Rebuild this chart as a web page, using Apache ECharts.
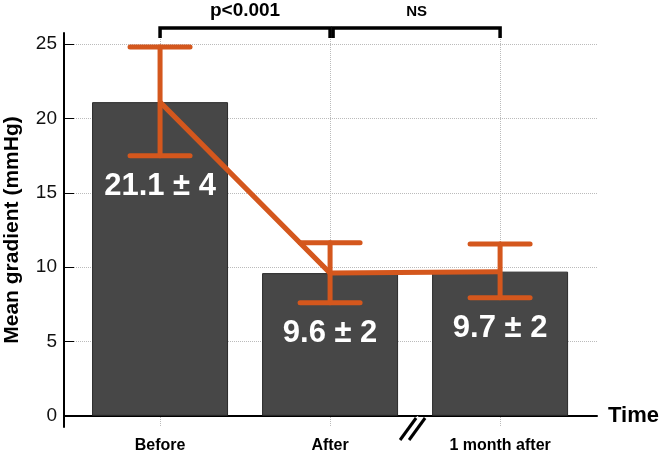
<!DOCTYPE html>
<html>
<head>
<meta charset="utf-8">
<title>Mean gradient</title>
<script src="https://cdn.jsdelivr.net/npm/echarts@6/dist/echarts.min.js"></script>
<style>
  html, body { margin: 0; padding: 0; background: #fff; }
  #main { width: 664px; height: 456px; }
</style>
</head>
<body>
<div id="main"></div>
<script>
// data
const categories = ["Before", "After", "1 month after"];
const xPositions = [1, 2, 3];
const meanValues = [21.1, 9.6, 9.7];
const sdLabels = [4, 2, 2];
const errLow = [17.5, 7.6, 7.95];
const errHigh = [24.8, 11.65, 11.55];
const yTicks = [0, 5, 10, 15, 20, 25];
const brackets = [
  { from: 1, to: 2, text: "p<0.001" },
  { from: 2, to: 3, text: "NS" },
];
const breakAt = 2.5;

const FONT = "'Liberation Sans', Arial, sans-serif";
const ORANGE = "#d4571d";
const Y_MIN = -0.75;

const chart = echarts.init(document.getElementById("main"));

const option = {
  animation: false,
  grid: { left: 64, right: 67, top: 33, bottom: 29, outerBoundsMode: "none", containLabel: false },
  xAxis: {
    type: "value",
    min: 0.435,
    max: 3.57,
    name: "Time",
    nameLocation: "end",
    nameGap: 11,
    nameMoveOverlap: false,
    nameTextStyle: { fontFamily: FONT, fontWeight: "bold", fontSize: 22, color: "#000" },
    axisLine: { lineStyle: { color: "#000", width: 2 } },
    axisTick: { inside: true, length: 10, customValues: xPositions, lineStyle: { color: "#000" } },
    axisLabel: {
      customValues: xPositions,
      formatter: (v) => categories[xPositions.indexOf(v)] || "",
      fontFamily: FONT,
      fontWeight: "bold",
      fontSize: 16,
      color: "#000",
      margin: 11,
    },
    splitLine: { show: true, lineStyle: { color: "#bbb", type: "dotted" } },
  },
  yAxis: {
    type: "value",
    min: Y_MIN,
    max: 25.75,
    name: "Mean gradient (mmHg)",
    nameLocation: "middle",
    nameGap: 41,
    nameMoveOverlap: false,
    nameTextStyle: { fontFamily: FONT, fontWeight: "bold", fontSize: 21, color: "#000" },
    axisLine: { show: true, lineStyle: { color: "#000", width: 2 } },
    axisTick: { show: true, inside: true, length: 10, customValues: yTicks, lineStyle: { color: "#000" } },
    axisLabel: {
      customValues: yTicks,
      fontFamily: FONT,
      fontSize: 19,
      color: "#111",
      margin: 7,
    },
    splitLine: { show: true, lineStyle: { color: "#bbb", type: "dotted" } },
  },
  series: [
    {
      type: "bar",
      barWidth: 136,
      data: meanValues.map((v, i) => [xPositions[i], v]),
      itemStyle: { color: "#474747", borderColor: "#2b2b2b", borderWidth: 1 },
      z: 2,
    },
    {
      type: "line",
      data: meanValues.map((v, i) => [xPositions[i], v]),
      symbol: "none",
      lineStyle: { color: ORANGE, width: 5 },
      z: 3,
    },
    {
      // error bars + value labels
      type: "custom",
      data: meanValues.map((v, i) => [xPositions[i], errLow[i], errHigh[i]]),
      z: 4,
      renderItem: (params, api) => {
        const i = params.dataIndex;
        const lo = api.coord([api.value(0), api.value(1)]);
        const hi = api.coord([api.value(0), api.value(2)]);
        const half = 30;
        const st = { stroke: ORANGE, lineWidth: 5, lineCap: "round" };
        return {
          type: "group",
          children: [
            { type: "line", shape: { x1: lo[0], y1: lo[1], x2: hi[0], y2: hi[1] }, style: st },
            { type: "line", shape: { x1: lo[0] - half, y1: lo[1], x2: lo[0] + half, y2: lo[1] }, style: st },
            { type: "line", shape: { x1: hi[0] - half, y1: hi[1], x2: hi[0] + half, y2: hi[1] }, style: st },
            {
              type: "text",
              x: lo[0],
              y: lo[1] + 31,
              style: {
                text: meanValues[i] + " ± " + sdLabels[i],
                fill: "#fff",
                font: "bold 31px " + FONT,
                align: "center",
                verticalAlign: "middle",
              },
            },
          ],
        };
      },
    },
    {
      // significance brackets on top
      type: "custom",
      data: brackets.map((b) => [b.from, b.to]),
      z: 5,
      renderItem: (params, api) => {
        const b = brackets[params.dataIndex];
        const x1 = api.coord([b.from, 0])[0] + (params.dataIndex > 0 ? 3 : 0);
        const x2 = api.coord([b.to, 0])[0];
        const yTop = 28;
        const yTip = 38;
        return {
          type: "group",
          children: [
            {
              type: "polyline",
              shape: { points: [[x1, yTip], [x1, yTop], [x2, yTop], [x2, yTip]] },
              style: { stroke: "#000", lineWidth: 3.5, fill: null },
            },
            {
              type: "text",
              x: (x1 + x2) / 2,
              y: params.dataIndex === 0 ? 11 : 12,
              style: {
                text: b.text,
                fill: "#000",
                font: "bold " + (params.dataIndex === 0 ? 19 : 15) + "px " + FONT,
                align: "center",
                verticalAlign: "middle",
              },
            },
          ],
        };
      },
    },
    {
      // axis break mark
      type: "custom",
      data: [[breakAt, Y_MIN]],
      z: 6,
      renderItem: (params, api) => {
        const p = api.coord([api.value(0), api.value(1)]);
        const x = p[0] - 1;
        const y = p[1];
        return {
          type: "group",
          children: [
            {
              type: "line",
              shape: { x1: x - 10, y1: y + 12, x2: x + 6, y2: y - 9 },
              style: { stroke: "#fff", lineWidth: 7 },
            },
            {
              type: "line",
              shape: { x1: x - 14, y1: y + 13, x2: x + 2, y2: y - 9 },
              style: { stroke: "#000", lineWidth: 3 },
            },
            {
              type: "line",
              shape: { x1: x - 5, y1: y + 13, x2: x + 11, y2: y - 9 },
              style: { stroke: "#000", lineWidth: 3 },
            },
          ],
        };
      },
    },
  ],
};

chart.setOption(option);
</script>
</body>
</html>
